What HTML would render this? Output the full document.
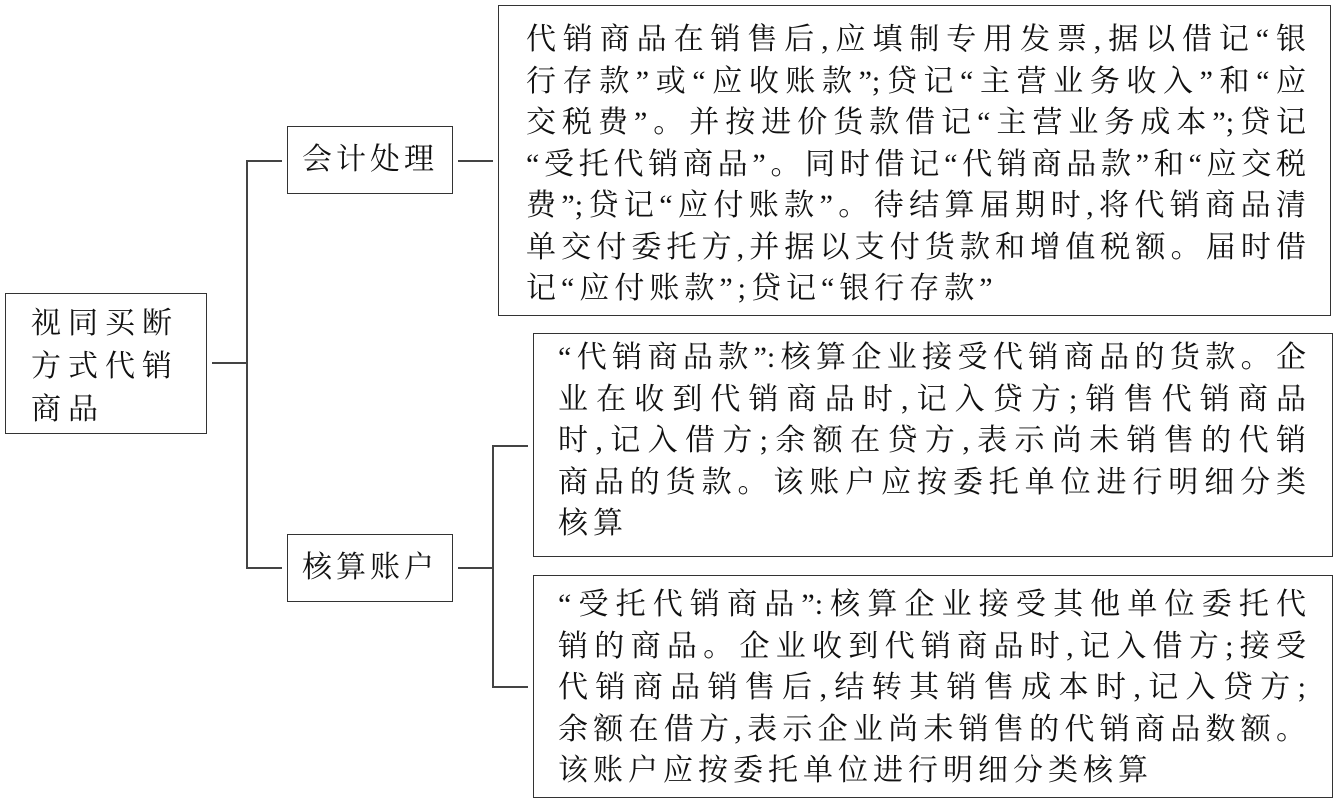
<!DOCTYPE html>
<html lang="zh"><head><meta charset="utf-8"><style>
body{margin:0;width:1338px;height:805px;background:#fff;position:relative;overflow:hidden;font-family:"Liberation Serif","Noto Serif CJK SC",serif;color:#111}
.b{position:absolute;border:1.5px solid #333;box-sizing:border-box}
.l{position:absolute;background:#444}
.t{position:absolute;font-size:30px;line-height:41.5px}
.t div{text-align:justify;text-align-last:justify;white-space:nowrap;height:41.5px}
.t div.e{text-align-last:left;letter-spacing:5px}
</style></head><body>
<div class="b" style="left:5px;top:293px;width:202px;height:141px"></div>
<div class="t" style="left:31px;top:302px;font-size:30px;line-height:43px;letter-spacing:7px">视同买断<br>方式代销<br>商品</div>
<div class="l" style="left:212px;top:362px;width:35px;height:1.5px"></div>
<div class="l" style="left:246px;top:160px;width:1.5px;height:408px"></div>
<div class="l" style="left:246px;top:160px;width:36px;height:1.5px"></div>
<div class="l" style="left:246px;top:567px;width:36px;height:1.5px"></div>
<div class="b" style="left:287px;top:126px;width:166px;height:68px"></div>
<div class="t" style="left:302px;top:139px;letter-spacing:4px">会计处理</div>
<div class="b" style="left:287px;top:534px;width:166px;height:68px"></div>
<div class="t" style="left:302px;top:547px;letter-spacing:4px">核算账户</div>
<div class="l" style="left:458px;top:160px;width:35px;height:1.5px"></div>
<div class="l" style="left:458px;top:567px;width:35px;height:1.5px"></div>
<div class="l" style="left:492px;top:445px;width:1.5px;height:242px"></div>
<div class="l" style="left:492px;top:445px;width:36px;height:1.5px"></div>
<div class="l" style="left:492px;top:686px;width:36px;height:1.5px"></div>
<div class="b" style="left:498px;top:5px;width:833px;height:311px"></div>
<div class="t" style="left:526px;top:19px;width:780px">
<div>代销商品在销售后,应填制专用发票,据以借记“银</div>
<div>行存款”或“应收账款”;贷记“主营业务收入”和“应</div>
<div>交税费”。并按进价货款借记“主营业务成本”;贷记</div>
<div>“受托代销商品”。同时借记“代销商品款”和“应交税</div>
<div>费”;贷记“应付账款”。待结算届期时,将代销商品清</div>
<div>单交付委托方,并据以支付货款和增值税额。届时借</div>
<div class="e">记“应付账款”;贷记“银行存款”</div>
</div>
<div class="b" style="left:533px;top:333px;width:800px;height:224px"></div>
<div class="t" style="left:558px;top:337px;width:748px">
<div>“代销商品款”:核算企业接受代销商品的货款。企</div>
<div>业在收到代销商品时,记入贷方;销售代销商品</div>
<div>时,记入借方;余额在贷方,表示尚未销售的代销</div>
<div>商品的货款。该账户应按委托单位进行明细分类</div>
<div class="e">核算</div>
</div>
<div class="b" style="left:533px;top:575px;width:800px;height:223px"></div>
<div class="t" style="left:558px;top:584px;width:748px">
<div>“受托代销商品”:核算企业接受其他单位委托代</div>
<div>销的商品。企业收到代销商品时,记入借方;接受</div>
<div>代销商品销售后,结转其销售成本时,记入贷方;</div>
<div>余额在借方,表示企业尚未销售的代销商品数额。</div>
<div class="e">该账户应按委托单位进行明细分类核算</div>
</div>
</body></html>
